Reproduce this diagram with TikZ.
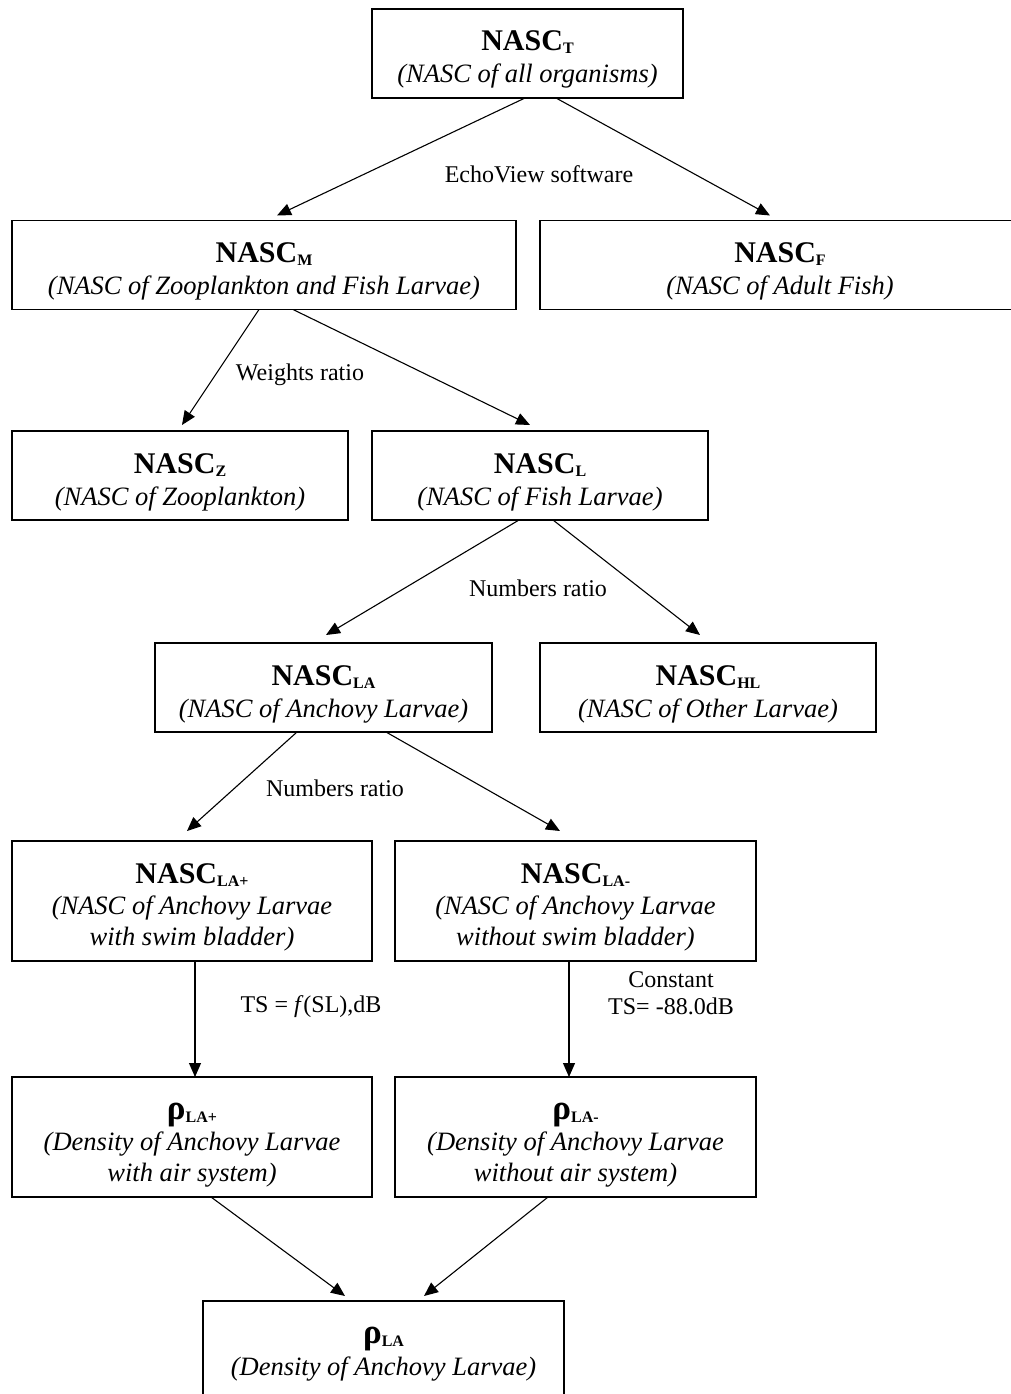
\documentclass[tikz,border=0pt]{standalone}
\usepackage{fontspec}
\setmainfont{Liberation Serif}
\usetikzlibrary{arrows.meta,calc}
\newcommand\nsub[1]{\raisebox{-3pt}{\fontsize{16}{16}\selectfont #1}}
\newcommand\ttl[1]{{\upshape\bfseries\fontsize{30}{32}\selectfont #1}}
\newcommand\rhob{{\fontsize{35}{32}\selectfont ρ}}
\newcommand\botstrut{\rule[-8pt]{0pt}{8pt}}
\begin{document}
\begin{tikzpicture}[x=1pt,y=-1pt,
  box/.style={draw, line width=1.4pt, align=center, inner sep=0pt, outer sep=0pt},
  twoline/.style={box, minimum height=89pt, font=\fontsize{26.5}{32}\selectfont\itshape},
  threeline/.style={box, minimum height=120pt, font=\fontsize{26.5}{31}\selectfont\itshape},
  lab/.style={font=\fontsize{24}{27}\selectfont, align=center, inner sep=0pt},
  arr/.style={line width=1.1pt, -{Triangle[length=14pt,width=12pt]}}
]
\path[use as bounding box] (0,0) rectangle (1011,1394);
\clip (0,0) rectangle (1011,1394);

% boxes
\node[twoline, minimum width=311pt] (T) at (527.5,53.5)
  {\ttl{\rule{0pt}{35pt}NASC\nsub{T}}\\(NASC of all organisms)\botstrut};
\node[twoline, minimum width=504pt] (M) at (264,265)
  {\ttl{\rule{0pt}{35pt}NASC\nsub{M}}\\(NASC of Zooplankton and Fish Larvae)\botstrut};
\node[twoline, minimum width=480pt] (F) at (780,265)
  {\ttl{\rule{0pt}{35pt}NASC\nsub{F}}\\(NASC of Adult Fish)\botstrut};
\node[twoline, minimum width=336pt] (Z) at (180,475.5)
  {\ttl{\rule{0pt}{35pt}NASC\nsub{Z}}\\(NASC of Zooplankton)\botstrut};
\node[twoline, minimum width=336pt] (L) at (540,475.5)
  {\ttl{\rule{0pt}{35pt}NASC\nsub{L}}\\(NASC of Fish Larvae)\botstrut};
\node[twoline, minimum width=337pt] (LA) at (323.5,687.5)
  {\ttl{\rule{0pt}{35pt}NASC\nsub{LA}}\\(NASC of Anchovy Larvae)\botstrut};
\node[twoline, minimum width=336pt] (HL) at (708,687.5)
  {\ttl{\rule{0pt}{35pt}NASC\nsub{HL}}\\(NASC of Other Larvae)\botstrut};
\node[threeline, minimum width=360pt] (LAp) at (192,901)
  {\ttl{\rule{0pt}{34pt}NASC\nsub{LA+}}\\(NASC of Anchovy Larvae\\with swim bladder)\botstrut};
\node[threeline, minimum width=361pt] (LAm) at (575.5,901)
  {\ttl{\rule{0pt}{34pt}NASC\nsub{LA-}}\\(NASC of Anchovy Larvae\\without swim bladder)\botstrut};
\node[threeline, minimum width=360pt] (Rp) at (192,1137)
  {\ttl{\rule{0pt}{34pt}\rhob\nsub{LA+}}\\(Density of Anchovy Larvae\\with air system)\botstrut};
\node[threeline, minimum width=361pt] (Rm) at (575.5,1137)
  {\ttl{\rule{0pt}{34pt}\rhob\nsub{LA-}}\\(Density of Anchovy Larvae\\without air system)\botstrut};
\node[box, minimum width=361pt, minimum height=100pt, font=\fontsize{26.5}{32}\selectfont\itshape] (R) at (383.5,1351)
  {\ttl{\rule{0pt}{24pt}\rhob\nsub{LA}}\\(Density of Anchovy Larvae)\botstrut};

% labels
\node[lab] (l1) at (539,174) {EchoView software};
\node[lab] (l2) at (300,375) {Weights ratio};
\node[lab] (l3) at (538,588) {Numbers ratio};
\node[lab] (l4) at (335,788) {Numbers ratio};
\node[lab] (l5) at (311,1007) {TS = \textit{f}(SL),dB};
\node[lab] (l6) at (671,993) {Constant\\TS= -88.0dB};

% connectors
\draw[arr] ($(T.south west)+(153,0)$) -- ($(M.north west)+(265,-5)$);
\draw[arr] ($(T.south west)+(184,0)$) -- ($(F.north west)+(230,-5)$);
\draw[arr] ($(M.south west)+(247,0)$) -- ($(Z.north west)+(170,-6)$);
\draw[arr] ($(M.south west)+(281,0)$) -- ($(L.north west)+(158,-6)$);
\draw[arr] ($(L.south west)+(147,0)$) -- ($(LA.north west)+(171,-8)$);
\draw[arr] ($(L.south west)+(181,0)$) -- ($(HL.north west)+(160,-8)$);
\draw[arr] ($(LA.south west)+(142,0)$) -- ($(LAp.north west)+(175,-10)$);
\draw[arr] ($(LA.south west)+(231,0)$) -- ($(LAm.north west)+(165,-10)$);
\draw[arr] ($(LAp.south west)+(183,0)$) -- ($(Rp.north west)+(183,0)$);
\draw[arr] ($(LAm.south west)+(174,0)$) -- ($(Rm.north west)+(174,0)$);
\draw[arr] ($(Rp.south west)+(199,0)$) -- ($(R.north west)+(142,-5)$);
\draw[arr] ($(Rm.south west)+(153,0)$) -- ($(R.north west)+(221,-5)$);
\end{tikzpicture}
\end{document}
